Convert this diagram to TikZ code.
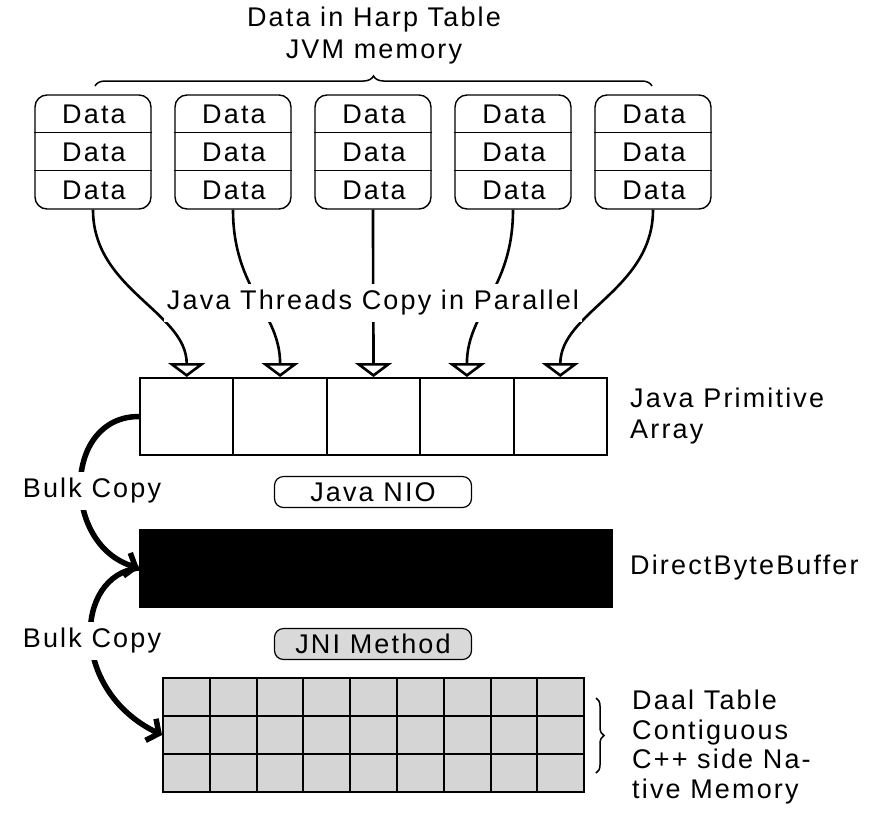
\documentclass[tikz,border=0pt]{standalone}
\usepackage{fontspec}
\setmainfont{Liberation Sans}[LetterSpace=8]
\usetikzlibrary{arrows.meta,decorations.pathreplacing,calc}
\definecolor{daalgray}{RGB}{214,213,214}
\definecolor{jnigray}{RGB}{217,217,217}
\begin{document}
\begin{tikzpicture}[x=1pt,y=-1pt, font=\fontsize{27}{31}\selectfont,
  stack/.style={draw, line width=1.4pt, rounded corners=12pt, minimum width=116pt, minimum height=114pt, inner sep=0pt},
  txt/.style={inner sep=0pt},
  thread/.style={line width=2.6pt, -{Triangle[open, width=37pt, length=14pt, line width=2.6pt]}},
  cell/.style={draw, line width=2pt, minimum width=93.4pt, minimum height=77pt, inner sep=0pt},
  dcell/.style={draw, fill=daalgray, line width=2pt, minimum width=46.8pt, minimum height=38pt, inner sep=0pt},
  bulk/.style={line width=5.5pt, -{Straight Barb[length=9pt, width=24pt]}},
  pill/.style={draw, line width=1.2pt, rounded corners=9pt, minimum width=197pt, minimum height=31pt, inner sep=0pt},
  gap/.style={fill=white, inner xsep=3pt, inner ysep=6pt},
  brc/.style={decorate, line width=1.5pt}]
\useasboundingbox (0,0) rectangle (877,812);
% title
\node[txt] (t1) at (374,20) {Data in Harp Table};
\node[txt] (t2) at (374,52) {JVM memory};
\draw[brc, decoration={brace, amplitude=10pt}] (95,86) -- (652,86);
% stacks
\foreach \i in {1,...,5} {
  \node[stack] (s\i) at ({93+140*(\i-1)},152) {};
  \draw[line width=1.4pt] ($(s\i.north west)+(0,38)$) -- ($(s\i.north east)+(0,38)$);
  \draw[line width=1.4pt] ($(s\i.north west)+(0,76)$) -- ($(s\i.north east)+(0,76)$);
  \node[txt] (d\i-1) at ({94+140*(\i-1)},114) {Data};
  \node[txt] (d\i-2) at ({94+140*(\i-1)},152) {Data};
  \node[txt] (d\i-3) at ({94+140*(\i-1)},190) {Data};
}
% primitive array
\foreach \i in {1,...,5}
  \node[cell] (c\i) at ({140+93.4*(\i-0.5)},416.5) {};
\foreach \i in {1,...,5}
  \draw[thread] (s\i.south) .. controls +(0,80) and +(0,-65) .. (c\i.north);
\node[txt, gap] (jt) at (373,303) {Java Threads Copy in Parallel};
\node[txt, align=left, anchor=west] (jpa) at (630,416) {Java Primitive\\Array};
% NIO and buffer
\node[pill] (nio) at (373,492) {Java NIO};
\node[draw, fill=black, minimum width=473pt, minimum height=78pt, inner sep=0pt] (dbb) at (375.5,568) {};
\node[txt, anchor=west] (dbbl) at (630,568) {DirectByteBuffer};
\node[pill, fill=jnigray] (jni) at (373,644) {JNI Method};
% daal table
\foreach \r in {1,2,3}
  \foreach \c in {1,...,9}
    \node[dcell] (dt\r-\c) at ({163+46.8*(\c-0.5)},{678+38*(\r-0.5)}) {};
\draw[brc, decoration={brace, amplitude=8pt}] (596,698) -- (596,773);
\node[txt, align=left, anchor=west, font=\fontsize{27}{29.7}\selectfont] (dl) at (632,747) {Daal Table\\Contiguous\\C++ side Na-\\tive Memory};
% bulk copies
\draw[bulk] (c1.west) .. controls +(-77,0) and +(-77,-23) .. (dbb.west);
\draw[bulk] (dbb.west) .. controls +(-65,7) and +(-93,-45) .. (dt2-1.west);
\node[txt, gap] (bc1) at (92,491) {Bulk Copy};
\node[txt, gap] (bc2) at (92,641) {Bulk Copy};
\end{tikzpicture}
\end{document}
